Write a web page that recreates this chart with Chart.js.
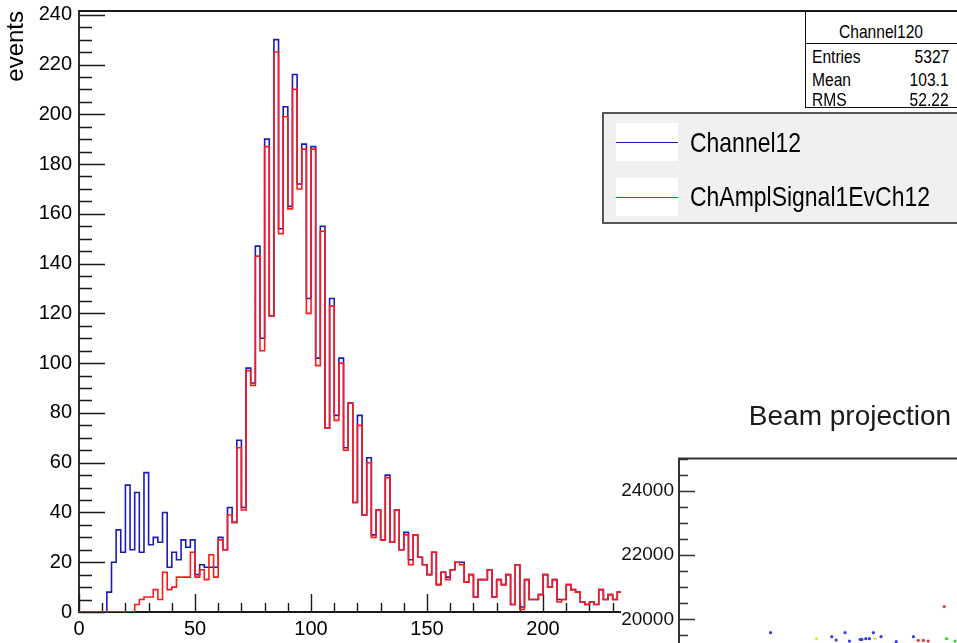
<!DOCTYPE html>
<html lang="en">
<head>
<meta charset="UTF-8">
<title>Channel12</title>
<script src="https://cdn.jsdelivr.net/npm/chart.js@4"></script>
<style>
  body { margin: 0; width: 957px; height: 643px; overflow: hidden; background: #fff; position: relative;
         font-family: "Liberation Sans", Arial, sans-serif; }
  #hist { position: absolute; left: 0; top: 0; }
  .narrow { position: absolute; white-space: nowrap; transform: scaleX(0.82); transform-origin: left top; }
  .narrow.r { transform-origin: right top; text-align: right; }
  #stats { position: absolute; left: 805px; top: 11px; width: 153px; height: 95px; border: 1px solid #111;
           background: #fff; font-size: 19px; line-height: 19px; color: #000; }
  #stats .sep { position: absolute; left: 0; right: 0; top: 31px; border-top: 1px solid #111; }
  #legend { position: absolute; left: 602px; top: 112px; width: 370px; height: 108px; border: 2px solid #555;
            background: #f0f0f0; font-size: 28px; line-height: 28px; color: #000; }
  #legend .sym { position: absolute; left: 12px; width: 62px; height: 38px; background: #fff; }
  #legend .sym i { position: absolute; left: 0; right: 0; height: 0; border-top: 1.5px solid; }
  #beam { position: absolute; left: 621px; top: 390px; width: 336px; height: 253px; background: #fff; overflow: hidden; }
  #beamChart { position: absolute; left: 0; top: 0; filter: blur(0.5px); }
</style>
</head>
<body>
<canvas id="hist" width="957" height="643"></canvas>

<div id="stats">
  <div class="narrow" style="left:33px; top:10px;">Channel120</div>
  <div class="sep"></div>
  <div class="narrow" style="left:6px; top:35px;">Entries</div>
  <div class="narrow r" style="right:10px; top:35px;">5327</div>
  <div class="narrow" style="left:6px; top:58px;">Mean</div>
  <div class="narrow r" style="right:10px; top:58px;">103.1</div>
  <div class="narrow" style="left:6px; top:78px;">RMS</div>
  <div class="narrow r" style="right:10px; top:78px;">52.22</div>
</div>

<div id="legend">
  <div class="sym" style="top:9px;"><i style="top:19px; border-color:#1c1cb4;"></i></div>
  <div class="narrow" style="left:86px; top:15px;">Channel12</div>
  <div class="sym" style="top:64px;"><i style="top:19px; border-color:#ff1a1a;"></i></div>
  <div class="narrow" style="left:86px; top:69px;">ChAmplSignal1EvCh12</div>
</div>

<div id="beam"><canvas id="beamChart" width="463" height="340"></canvas></div>

<script>
// histogram binning (bin width 2, first bin starts at 0)
const binWidth = 2;

// Channel12 contents, bins 0-2 ... 232-234
const channel12 = [
  0, 0, 0, 0, 0, 0,
  8, 20, 33, 24, 51, 25, 48, 24, 56, 27, 30, 28, 40, 18,
  24, 21, 29, 26, 29, 15, 19, 18, 18, 18,
  30, 25, 42, 36, 69, 42, 98, 92, 147, 110,
  190, 119, 230, 154, 203, 163, 216, 172, 188, 126,
  187, 102, 155, 74, 126, 79, 102, 66, 84, 44,
  79, 39, 62, 31, 41, 29, 55, 28, 41, 25,
  32, 21, 31, 22, 19, 15, 24, 11, 16, 14,
  17, 20, 20, 12, 15, 6, 13, 13, 17, 6,
  13, 11, 15, 3, 19, 2, 13, 5, 5, 7,
  15, 10, 13, 5, 5, 11, 9, 8, 4, 3,
  4, 3, 9, 5, 7, 5, 8
];

// ChAmplSignal1EvCh12 contents, same binning
const amplSignal = [
  0, 0, 0, 0, 0, 0, 0, 0, 0, 0, 0, 0,
  3, 5, 6, 6, 9, 5, 16, 9,
  10, 14, 14, 14, 24, 14, 17, 13, 23, 14,
  29, 25, 39, 36, 66, 41, 97, 91, 143, 105,
  187, 119, 225, 152, 199, 162, 210, 170, 186, 120,
  186, 99, 153, 74, 123, 77, 100, 65, 84, 44,
  75, 39, 60, 30, 41, 29, 54, 28, 41, 25,
  31, 19, 31, 22, 19, 15, 24, 11, 16, 13,
  17, 20, 19, 12, 15, 6, 13, 13, 17, 6,
  13, 11, 15, 3, 19, 1, 13, 5, 5, 7,
  15, 10, 13, 4, 5, 11, 9, 8, 4, 3,
  4, 3, 9, 5, 7, 5, 8
];

const histTitle = 'events';
const xTicks = { min: 0, max: 378.4, step: 50, minor: 10 };
const yTicks = { min: 0, max: 241.5, step: 20, minor: 5 };

// beam projection points, grouped by colour
const beamYLabels = [20000, 22000, 24000];
const beamBlueX = [22.9, 38.2, 39.3, 41.5, 42.6, 45.3, 45.7, 46.7, 47.6, 48.6, 50.5, 54.3, 58.6];
const beamBlueY = [19584, 19459, 19353, 19584, 19322, 19375, 19375, 19397, 19397, 19584, 19459, 19303, 19459];
const beamYellowX = [34.4, 49.0];
const beamYellowY = [19397, 19397];
const beamRedX = [59.8, 61.1, 62.3, 66.3];
const beamRedY = [19344, 19344, 19322, 20397];
const beamGreenX = [66.9, 69.0];
const beamGreenY = [19397, 19322];

Chart.defaults.font.family = '"Liberation Sans", Arial, sans-serif';
Chart.defaults.color = '#000';

// outline of a histogram: one point per bin low edge, plus the last upper edge
function steps(values) {
  const pts = values.map((v, i) => ({ x: i * binWidth, y: v }));
  pts.push({ x: values.length * binWidth, y: values[values.length - 1] });
  return pts;
}

function pairs(xs, ys) {
  return xs.map((x, i) => ({ x: x, y: ys[i] }));
}

// ROOT-style frame: axis lines plus ticks pointing into the pad
const rootFrame = {
  id: 'rootFrame',
  beforeDatasetsDraw(chart, args, o) {
    const { ctx, chartArea: a, scales } = chart;
    const x = scales.x, y = scales.y;
    ctx.save();
    ctx.strokeStyle = o.color;
    ctx.lineWidth = o.frameWidth;
    ctx.beginPath();
    ctx.moveTo(a.right + 5, a.top);
    ctx.lineTo(a.left, a.top);
    ctx.lineTo(a.left, a.bottom);
    ctx.lineTo(a.right + 5, a.bottom);
    ctx.stroke();

    ctx.lineWidth = o.tickWidth;
    ctx.beginPath();
    for (let k = Math.ceil(y.min / o.yMinor); k * o.yMinor <= y.max; k++) {
      const v = k * o.yMinor;
      const py = Math.round(y.getPixelForValue(v)) + 0.5;
      const len = (k % Math.round(o.yMajor / o.yMinor) === 0) ? o.yMajorLen : o.yMinorLen;
      ctx.moveTo(a.left, py);
      ctx.lineTo(a.left + len, py);
    }
    if (o.xMinor) {
      for (let k = Math.ceil(x.min / o.xMinor); k * o.xMinor <= x.max; k++) {
        const v = k * o.xMinor;
        const px = Math.round(x.getPixelForValue(v)) + 0.5;
        const len = (k % Math.round(o.xMajor / o.xMinor) === 0) ? o.xMajorLen : o.xMinorLen;
        ctx.moveTo(px, a.bottom);
        ctx.lineTo(px, a.bottom - len);
      }
    }
    ctx.stroke();
    ctx.restore();
  }
};

// fixed axis sizes so the pad keeps its place
function fixWidth(w) {
  return function (s) { s.width = w; s.paddingTop = 0; s.paddingBottom = 0; };
}
function fixHeight(h) {
  return function (s) { s.height = h; s.paddingLeft = 0; s.paddingRight = 0; };
}

new Chart(document.getElementById('hist'), {
  type: 'line',
  data: {
    datasets: [
      { label: 'Channel12', data: steps(channel12), borderColor: '#1c1cb4', borderWidth: 1.6,
        stepped: 'before', pointRadius: 0, fill: false, order: 2 },
      { label: 'ChAmplSignal1EvCh12', data: steps(amplSignal), borderColor: '#ff1a1a', borderWidth: 1.6,
        stepped: 'before', pointRadius: 0, fill: false, order: 1 }
    ]
  },
  options: {
    responsive: false,
    animation: false,
    layout: { padding: { top: 11, left: 0, right: 0, bottom: 0 } },
    plugins: {
      legend: { display: false },
      tooltip: { enabled: false },
      rootFrame: { color: '#1a1a1a', frameWidth: 1.8, tickWidth: 1.4,
                   yMajor: yTicks.step, yMinor: yTicks.minor, yMajorLen: 26, yMinorLen: 13,
                   xMajor: xTicks.step, xMinor: xTicks.minor, xMajorLen: 18, xMinorLen: 9 }
    },
    scales: {
      x: {
        type: 'linear', min: xTicks.min, max: xTicks.max,
        grid: { display: false, drawTicks: false },
        border: { display: false },
        ticks: { stepSize: xTicks.step, includeBounds: false, maxRotation: 0, padding: 5,
                 font: { size: 20 }, color: '#000' },
        afterFit: fixHeight(31)
      },
      y: {
        min: yTicks.min, max: yTicks.max,
        grid: { display: false, drawTicks: false },
        border: { display: false },
        ticks: { stepSize: yTicks.step, includeBounds: false, padding: 7, font: { size: 20 }, color: '#000' },
        title: { display: true, text: histTitle, align: 'end', font: { size: 24 }, color: '#000',
                 padding: { top: 2, bottom: 0 } },
        afterFit: fixWidth(79)
      }
    }
  },
  plugins: [rootFrame]
});

new Chart(document.getElementById('beamChart'), {
  type: 'scatter',
  data: {
    datasets: [
      { data: pairs(beamBlueX, beamBlueY), backgroundColor: '#3a3af0', borderWidth: 0, pointRadius: 1.6 },
      { data: pairs(beamYellowX, beamYellowY), backgroundColor: '#e6e63a', borderWidth: 0, pointRadius: 1.6 },
      { data: pairs(beamRedX, beamRedY), backgroundColor: '#e83838', borderWidth: 0, pointRadius: 1.6 },
      { data: pairs(beamGreenX, beamGreenY), backgroundColor: '#3ad23a', borderWidth: 0, pointRadius: 1.6 }
    ]
  },
  options: {
    responsive: false,
    animation: false,
    layout: { padding: { top: 0, left: 0, right: 5, bottom: 0 } },
    plugins: {
      legend: { display: false },
      tooltip: { enabled: false },
      title: { display: true, text: 'Beam projection', color: '#1a1a1a',
               font: { size: 28, weight: 'normal' }, padding: { top: 10, bottom: 25 } },
      rootFrame: { color: '#333', frameWidth: 2, tickWidth: 1.6,
                   yMajor: 2000, yMinor: 500, yMajorLen: 16, yMinorLen: 9 }
    },
    scales: {
      x: {
        type: 'linear', min: 0, max: 100,
        grid: { display: false, drawTicks: false },
        border: { display: false },
        ticks: { display: false },
        afterFit: fixHeight(40)
      },
      y: {
        min: 17800, max: 25000,
        grid: { display: false, drawTicks: false },
        border: { display: false },
        afterBuildTicks(s) { s.ticks = beamYLabels.map(v => ({ value: v })); },
        ticks: { padding: 5, font: { size: 19 }, color: '#111', callback: v => String(v) },
        afterFit: fixWidth(58)
      }
    }
  },
  plugins: [rootFrame]
});
</script>
</body>
</html>
